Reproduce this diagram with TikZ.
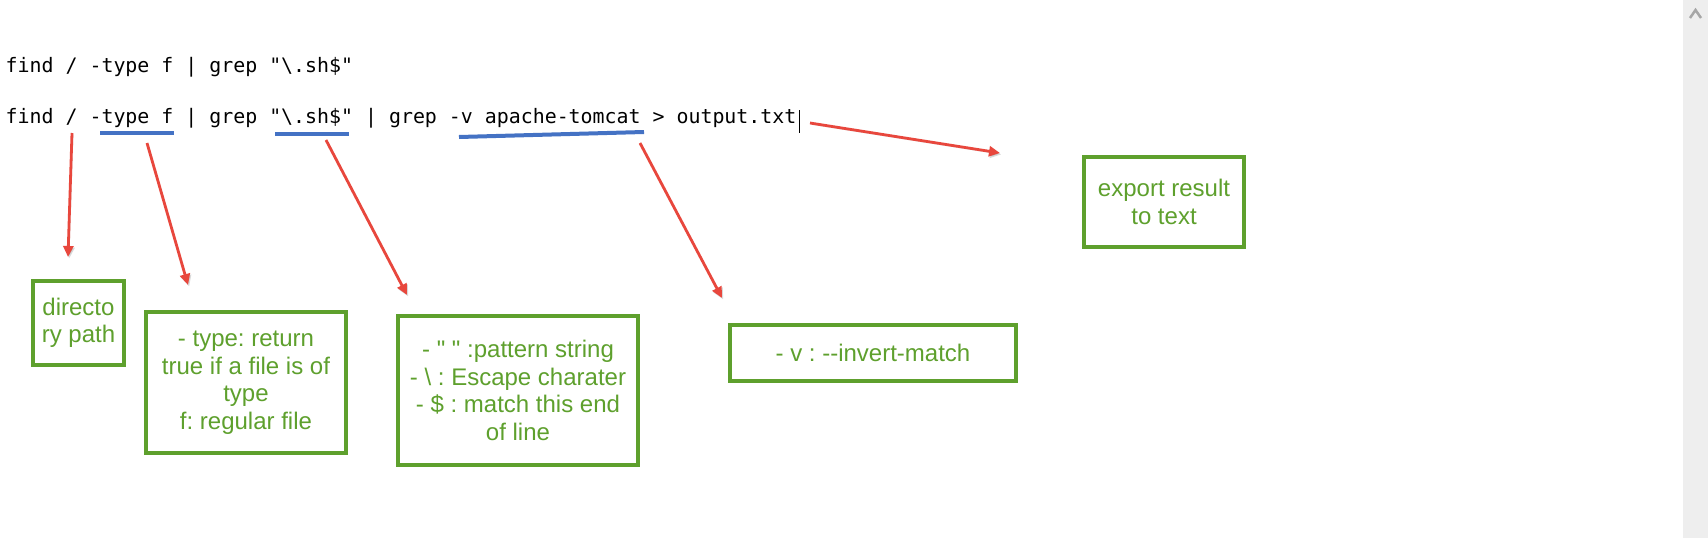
\documentclass[tikz,border=0pt]{standalone}
\usepackage{fontspec}
\newfontfamily\codefont{DejaVu Sans Mono}
\newfontfamily\boxfont{Liberation Sans}
\usetikzlibrary{arrows.meta,shadows}
\definecolor{boxgreen}{HTML}{5EA02D}
\definecolor{arrowred}{HTML}{E8473D}
\definecolor{ulblue}{HTML}{4472C4}
\definecolor{scrollgray}{HTML}{EEEEEE}
\definecolor{caretgray}{HTML}{A6A6A6}
\frenchspacing
\begin{document}
\begin{tikzpicture}[x=1pt,y=-1pt,
  codetext/.style={anchor=base west, inner sep=0pt, font=\codefont\fontsize{19.9}{24}\selectfont},
  notebox/.style={draw=boxgreen, line width=4pt, fill=white, text=boxgreen, align=center, inner sep=2pt,
    font=\boxfont\fontsize{24}{27.5}\selectfont,
    drop shadow={shadow xshift=2pt, shadow yshift=-2pt, opacity=0.3}},
  redarrow/.style={draw=arrowred, line width=2.8pt, -{Triangle[length=11pt,width=10pt]},
    preaction={draw=black, opacity=0.15, transform canvas={shift={(1.2pt,-1.5pt)}}}},
  underline/.style={draw=ulblue, line width=4pt}]
\useasboundingbox (0,0) rectangle (1708,538);
\fill[white] (0,0) rectangle (1708,538);
% scrollbar
\fill[scrollgray] (1683,0) rectangle (1708,538);
\draw[caretgray, line width=2.5pt] (1690,18) -- (1695.5,10) -- (1701,18);

% command lines
\node[codetext] (line1) at (5.5,72) {find / -type f | grep "\textbackslash.sh\$"};
\node[codetext] (line2) at (5.5,123) {find / -type f | grep "\textbackslash.sh\$" | grep -v apache-tomcat > output.txt};
\draw[line width=1pt] (799,110) -- (799,133);

% underlines
\draw[underline] (100,133) -- (174,133);
\draw[underline] (275,134) -- (349,134);
\draw[underline] (459,137) -- (644,132);

% boxes
\node[notebox, minimum width=91pt, minimum height=84pt] (dir) at (78.5,323) {directo\\ry path};
\node[notebox, minimum width=200pt, minimum height=141pt] (type) at (246,382.5) {- type: return\\true if a file is of\\type\\f: regular file};
\node[notebox, minimum width=240pt, minimum height=149pt] (pattern) at (518,390.5) {- " " :pattern string\\- \textbackslash{} : Escape charater\\- \$ : match this end\\of line};
\node[notebox, minimum width=286pt, minimum height=56pt] (invert) at (873,353) {- v : -{}-invert-match};
\node[notebox, minimum width=160pt, minimum height=90pt] (export) at (1164,202) {export result\\to text};

% arrow end points
\coordinate (a1s) at (72,133);  \coordinate (a1e) at (68,257);
\coordinate (a2s) at (147,143); \coordinate (a2e) at (188,285);
\coordinate (a3s) at (326,140); \coordinate (a3e) at (407,295);
\coordinate (a4s) at (640,143); \coordinate (a4e) at (722,298);
\coordinate (a5s) at (810,123); \coordinate (a5e) at (1000,153);

\draw[redarrow] (a1s) -- (a1e);
\draw[redarrow] (a2s) -- (a2e);
\draw[redarrow] (a3s) -- (a3e);
\draw[redarrow] (a4s) -- (a4e);
\draw[redarrow] (a5s) -- (a5e);
\end{tikzpicture}
\end{document}
